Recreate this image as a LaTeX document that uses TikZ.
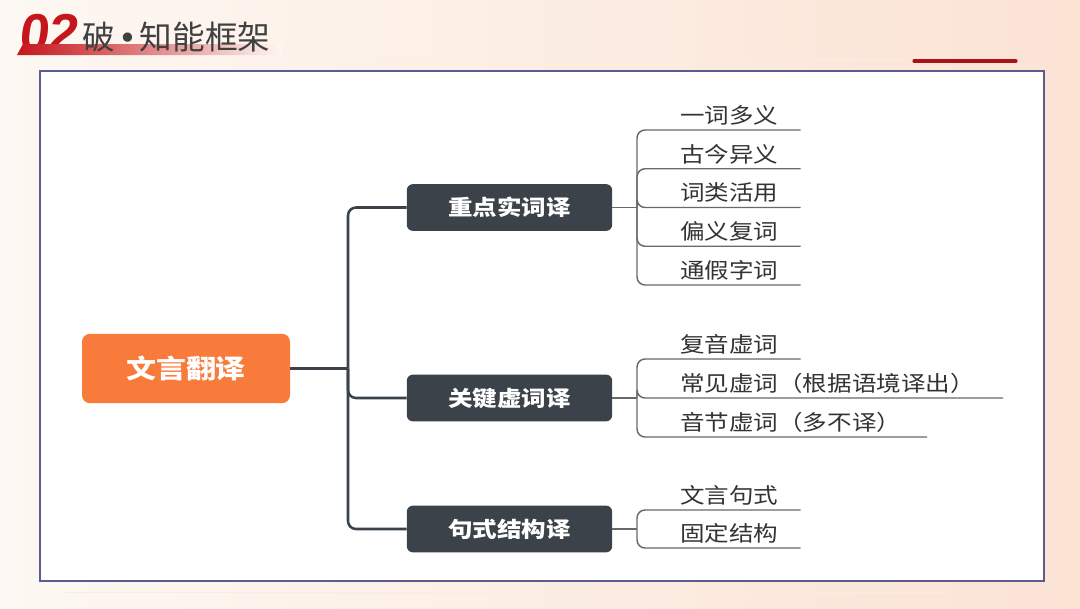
\documentclass[tikz,border=0pt]{standalone}
\usepackage{fontspec}
\setmainfont{Noto Sans CJK SC}[FakeStretch=1.15]
\newfontfamily\titlefont{Noto Sans CJK SC}
\newfontfamily\dotfont{DejaVu Sans}
\newfontfamily\numfont{Liberation Sans}[FakeSlant=0.12]
\usetikzlibrary{positioning}

\definecolor{rootorange}{HTML}{F97B3C}
\definecolor{branchgray}{HTML}{3B4249}
\definecolor{linegray}{HTML}{66696E}
\definecolor{framebd}{HTML}{5B5B8F}
\definecolor{titlered}{HTML}{C4161C}
\definecolor{peach}{HTML}{FBE3D4}
\definecolor{cream}{HTML}{FDF8F3}

\tikzset{
  rootbox/.style={fill=rootorange, text=white, rounded corners=6pt,
    minimum width=156pt, minimum height=52pt,
    font=\fontsize{19.5}{22}\selectfont\bfseries},
  branchbox/.style={fill=branchgray, text=white, rounded corners=4.5pt,
    minimum width=154pt, minimum height=35pt,
    font=\fontsize{16}{19}\selectfont\bfseries},
  leaf/.style={anchor=south west, inner xsep=0pt, inner ysep=3.5pt,
    align=left, text=black!80, font=\fontsize{16}{19}\selectfont},
  trunk/.style={draw=branchgray, line width=1.9pt, rounded corners=6pt},
  twig/.style={draw=linegray, line width=1.1pt, rounded corners=6pt},
}

\begin{document}
\begin{tikzpicture}[x=0.75pt,y=-0.75pt]
  \useasboundingbox (0,0) rectangle (1080,608);
  % background and header
  \shade[left color=cream, right color=peach] (0,0) rectangle (1080,608);
  \node[anchor=base west, inner sep=0pt, text=titlered,
    font=\numfont\fontsize{40}{42}\selectfont\bfseries] (num) at (18,51) {02};
  \shade[left color=titlered, right color=peach!30] (17,55) -- (23,44) -- (282,44) -- (282,55) -- cycle;
  \node[anchor=west, inner sep=0pt, text=black!75,
    font=\titlefont\fontsize{24.5}{28}\selectfont] (title) at (82,37)
    {破\hspace{2.5pt}{\dotfont\fontsize{24}{28}\selectfont•}\hspace{2pt}知能框架};
  \draw[peach!70!brown!30, line width=0.6pt] (380,60) -- (910,60);
  \draw[titlered!85!black, line width=2.3pt, line cap=round] (914,61) -- (1016,61);
  \draw[peach!80!brown!40, line width=0.6pt] (65,592) -- (945,592);
  \draw[framebd, line width=0.8pt, fill=white] (40,71) rectangle (1044,581);

  % root and branches
  \node[rootbox] (root) at (186,368.5) {文言翻译};
  \node[branchbox] (b1) at (509.5,207.5) {重点实词译};
  \node[branchbox] (b2) at (509.5,398) {关键虚词译};
  \node[branchbox] (b3) at (509.5,529) {句式结构译};
  \coordinate (hub) at (348,368.5);
  \draw[trunk] (root.east) -- (hub);
  \foreach \b in {b1,b2,b3}
    \draw[trunk] (hub) |- (\b.west);

  % leaves of b1
  \node[leaf, text width=90pt] (l11) at (680,130) {一词多义};
  \node[leaf, text width=90pt] (l12) at (680,168.75) {古今异义};
  \node[leaf, text width=90pt] (l13) at (680,207.5) {词类活用};
  \node[leaf, text width=90pt] (l14) at (680,246.25) {偏义复词};
  \node[leaf, text width=90pt] (l15) at (680,285) {通假字词};
  % leaves of b2
  \node[leaf, text width=90pt] (l21) at (680,359) {复音虚词};
  \node[leaf, text width=242pt] (l22) at (680,398) {常见虚词（根据语境译出）};
  \node[leaf, text width=185pt] (l23) at (680,437) {音节虚词（多不译）};
  % leaves of b3
  \node[leaf, text width=90pt] (l31) at (680,510) {文言句式};
  \node[leaf, text width=90pt] (l32) at (680,548) {固定结构};

  \coordinate (k1) at (637,207.5);
  \coordinate (k2) at (637,398);
  \coordinate (k3) at (637,529);
  \draw[twig] (b1.east) -- (k1);
  \draw[twig] (b2.east) -- (k2);
  \draw[twig] (b3.east) -- (k3);
  \foreach \l in {l11,l12,l13,l14,l15}
    \draw[twig] (k1) |- (\l.south east);
  \foreach \l in {l21,l22,l23}
    \draw[twig] (k2) |- (\l.south east);
  \foreach \l in {l31,l32}
    \draw[twig] (k3) |- (\l.south east);
\end{tikzpicture}
\end{document}
